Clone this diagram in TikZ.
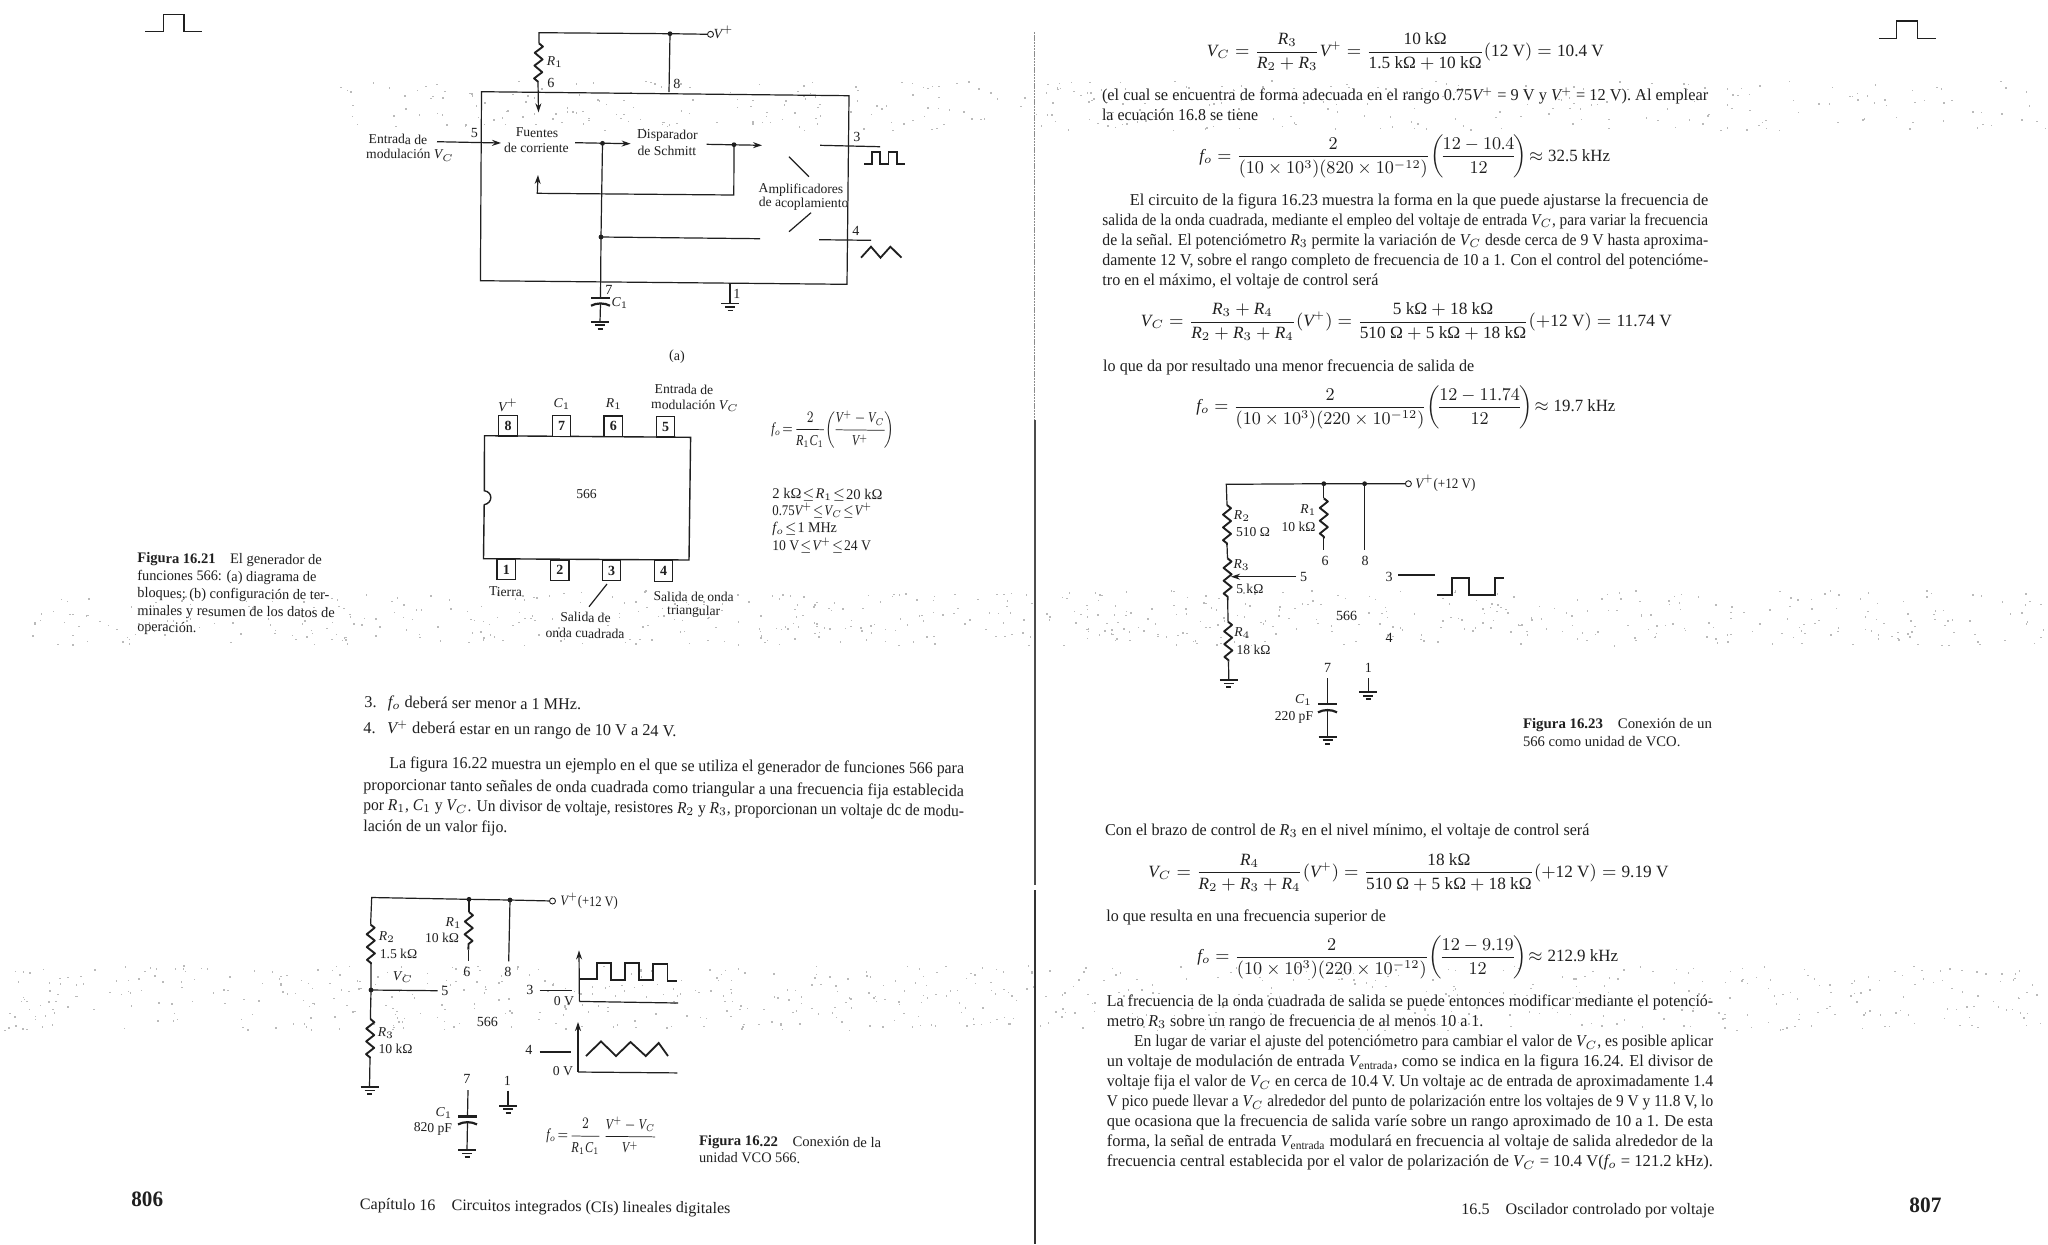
\documentclass[tikz,border=0pt]{standalone}
\usepackage{amsmath}
\usepackage{graphicx}
\usepackage{fontspec}
\setmainfont{Liberation Serif}
\usetikzlibrary{arrows.meta,decorations.pathmorphing}
\DeclareSymbolFont{numerals}{TU}{\rmdefault}{m}{n}
\DeclareMathSymbol{0}{\mathalpha}{numerals}{`0}
\DeclareMathSymbol{1}{\mathalpha}{numerals}{`1}
\DeclareMathSymbol{2}{\mathalpha}{numerals}{`2}
\DeclareMathSymbol{3}{\mathalpha}{numerals}{`3}
\DeclareMathSymbol{4}{\mathalpha}{numerals}{`4}
\DeclareMathSymbol{5}{\mathalpha}{numerals}{`5}
\DeclareMathSymbol{6}{\mathalpha}{numerals}{`6}
\DeclareMathSymbol{7}{\mathalpha}{numerals}{`7}
\DeclareMathSymbol{8}{\mathalpha}{numerals}{`8}
\DeclareMathSymbol{9}{\mathalpha}{numerals}{`9}
\DeclareMathSymbol{.}{\mathord}{numerals}{`.}
\definecolor{ink}{gray}{0.12}
\newcounter{nn}
\newcommand\VV{\mathit{V}}
\newcommand\RR{\mathit{R}}
\newcommand\CC{\mathit{C}}
\newcommand\ff{\mathit{f}}
\newcommand\pl{^{\scriptscriptstyle +}}
\def\tilt{0}
% line of text fitted between two x positions: [size]{x1}{x2}{baseline y}{text}
\newcommand\tline[5][8.3]{\stepcounter{nn}\pgfmathsetmacro\tlw{(#3-#2)*0.5}%
  \node[txt,anchor=base west,rotate=\tilt] (t\arabic{nn}) at (#2,#4) {\fontsize{#1}{#1}\selectfont\resizebox{\tlw pt}{\height}{#5}};}
% equation fitted between two x positions, centred on y
\newcommand\eqln[5][8.6]{\stepcounter{nn}\pgfmathsetmacro\tlw{(#3-#2)*0.5}%
  \node[txt,anchor=west,rotate=\tilt] (e\arabic{nn}) at (#2,#4) {\fontsize{#1}{#1}\selectfont\resizebox{\tlw pt}{\height}{#5}};}
% centred label
\newcommand\plab[4][6.8]{\stepcounter{nn}%
  \node[txt,rotate=\tilt] (l\arabic{nn}) at (#2,#3) {\fontsize{#1}{#1}\selectfont #4};}
\tikzset{
  txt/.style={inner sep=0pt,text=ink},
  wire/.style={draw=ink,line width=0.6pt},
  arr/.style={wire,-{Stealth[length=4.5pt,width=3pt]}},
  res/.style={draw=ink,line width=0.95pt,line join=round,decorate,decoration={zigzag,segment length=6.4pt,amplitude=2pt}},
  gl/.style={draw=ink,line width=0.85pt},
  term/.style={circle,draw=ink,fill=white,line width=0.45pt,inner sep=0pt,minimum size=3pt},
  pinbox/.style={draw=ink,line width=0.65pt,fill=white,inner sep=0pt,minimum width=9.3pt,minimum height=10.3pt,text=ink,font=\fontsize{7}{7}\selectfont\bfseries},
  speck/.style={fill=black!27},
  pics/gndp/.style={code={\draw[gl] (-9,0)--(9,0);\draw[gl] (-5,3.5)--(5,3.5);\draw[gl] (-2.5,7)--(2.5,7);}},
  pics/capp/.style={code={\draw[gl,line width=1.1pt] (-9.5,0)--(9.5,0);\draw[gl,line width=1.1pt] (-9.5,8) .. controls (-4,5) and (4,5) .. (9.5,8);}}
}
\begin{document}
\begin{tikzpicture}[x=0.5pt,y=-0.5pt]
\useasboundingbox (0,0) rectangle (2048,1244);
\fill[white] (0,0) rectangle (2048,1244);
% scanner speckle bands
\pgfmathsetseed{7}
\foreach \xa/\ya/\yb/\n in {340/80/130/380, 30/590/645/620, 0/965/1030/700}{
  \foreach \i in {1,...,\n}{
    \pgfmathsetmacro\sx{\xa+(2048-\xa)*rnd}
    \pgfmathsetmacro\sy{\ya+(\yb-\ya)*rnd}
    \fill[speck] (\sx,\sy) rectangle ++(1.5,1.5);
  }
}
% binding line
\coordinate (ba) at (1034.7,32); \coordinate (bb) at (1034.7,420); \coordinate (bc) at (1034.7,885);
\coordinate (bd) at (1034.7,890); \coordinate (be) at (1034.7,1244);
\draw[black!45,line width=0.7pt,dash pattern=on 1.2pt off 0.4pt] (ba)--(bb);
\draw[black!70,line width=0.8pt] (bb)--(bc);
\draw[black!80,line width=0.8pt] (bd)--(be);
% running-head pulses
\draw[wire] (145,31.7)--(163.3,31.7)--(163.3,14.7)--(184,14.7)--(184,31.7)--(202.3,31.7);
\draw[wire] (1879.4,38.3)--(1896.7,38.3)--(1896.7,21)--(1917.6,21)--(1917.6,38.3)--(1935.5,38.3);

%%%%%% LEFT PAGE
\def\tilt{-0.6}
%% Figure (a)
\coordinate (ra) at (539,32.7); \coordinate (j8) at (670,33.7);
\node[term] (vt) at (710.5,34.3) {};
\coordinate (r1a) at (539,43.3); \coordinate (r1b) at (538,81.7); \coordinate (r1c) at (538.5,112.3);
\draw[wire] (481.5,91.7)--(849,95.7)--(847,284.3)--(480.4,280.7)--cycle;
\draw[wire] (r1a)--(ra)--(j8)--(vt);
\draw[res] (r1a)--(r1b);
\draw[arr] (r1b)--(r1c);
\coordinate (p8) at (669,92);
\draw[wire] (j8)--(p8);
\fill[ink] (j8) circle (2.4);
\plab[7]{723.5}{32.7}{$\VV\pl$}
\plab{555}{62}{$\RR_1$}
\plab[7]{551}{82.7}{6}
\plab[7]{677}{84}{8}
\plab{398}{139.3}{Entrada de}
\plab{410}{155}{modulación $\VV_C$}
\coordinate (ina) at (437,141.7); \coordinate (inb) at (501,143);
\draw[arr] (ina)--(inb);
\plab[7]{474.5}{133}{5}
\plab{537}{132.7}{Fuentes}
\plab{536.5}{147.7}{de corriente}
\coordinate (fa) at (575,142.7); \coordinate (fb) at (630.6,143.7); \coordinate (fj) at (602.5,143.3);
\draw[arr] (fa)--(fb);
\plab{667.4}{135.7}{Disparador}
\plab{667}{150.7}{de Schmitt}
\coordinate (sa) at (706.5,144.3); \coordinate (sb) at (762,145.3); \coordinate (sj) at (734,144.7);
\draw[arr] (sa)--(sb);
\coordinate (fba) at (733.8,195); \coordinate (fbb) at (537.3,193.3); \coordinate (fbc) at (538,175);
\draw[arr] (sj)--(fba)--(fbb)--(fbc);
\coordinate (tj) at (601,237); \coordinate (c7) at (600.5,297.7); \coordinate (tb) at (760,238.7);
\draw[wire] (fj)--(tj)--(c7);
\draw[wire] (tj)--(tb);
\fill[ink] (fj) circle (2.4); \fill[ink] (sj) circle (2.4); \fill[ink] (tj) circle (2.4);
\coordinate (o3a) at (820,145.3); \coordinate (o3b) at (880,146.7);
\draw[wire] (o3a)--(o3b);
\plab[7]{857}{136.7}{3}
\draw[draw=ink,line width=0.9pt] (864,164)--(872,164)--(872,151.7)--(880,151.7)--(880,164)--(888.4,164)--(888.4,151.7)--(897,151.7)--(897,164)--(904.6,164);
\coordinate (s1a) at (789,156.7); \coordinate (s1b) at (809,176.7);
\draw[wire] (s1a)--(s1b);
\plab{801}{190}{Amplificadores}
\plab{803.6}{204}{de acoplamiento}
\coordinate (s2a) at (811,212.7); \coordinate (s2b) at (789,231.7);
\draw[wire] (s2a)--(s2b);
\coordinate (o4a) at (819,239.7); \coordinate (o4b) at (871,240.3);
\draw[wire] (o4a)--(o4b);
\plab[7]{856}{230.7}{4}
\draw[draw=ink,line width=0.9pt] (861,257.7)--(871,246.7)--(880.5,257.7)--(890.4,246.7)--(901.5,257.7);
\plab[7]{609}{290}{7}
\plab{620}{303}{$\CC_1$}
\pic at (600.5,297.7) {capp};
\coordinate (c7b) at (600.5,304); \coordinate (c7g) at (600,321.7);
\draw[wire] (c7b)--(c7g);
\pic at (c7g) {gndp};
\coordinate (g1a) at (730,284.3); \coordinate (g1b) at (730,303.5);
\draw[wire] (g1a)--(g1b);
\pic at (g1b) {gndp};
\plab[7]{737}{294}{1}
\plab[7]{677}{356.7}{(a)}

%% Figure (b): chip
\draw[wire,line width=0.7pt] (484.5,435.7)--(690.6,437.3)--(689,560)--(483.5,558.7)--(484.2,504.7) .. controls (493,503) and (493,492) .. (484.3,490.7)--cycle;
\node[pinbox] (pin8) at (508,425.6) {8};
\node[pinbox] (pin7) at (561.5,426) {7};
\node[pinbox] (pin6) at (613.3,426.3) {6};
\node[pinbox] (pin5) at (665.5,426.7) {5};
\node[pinbox] (pin1) at (506.3,569.5) {1};
\node[pinbox] (pin2) at (559.8,570.3) {2};
\node[pinbox] (pin3) at (611.5,570.5) {3};
\node[pinbox] (pin4) at (663.5,571) {4};
\plab{684}{389.3}{Entrada de}
\plab{695}{405.7}{modulación $\VV_C$}
\plab{508}{405}{$\VV\pl$}
\plab{562}{404}{$\CC_1$}
\plab{614}{404}{$\RR_1$}
\plab{586.5}{494.3}{566}
\plab{505.5}{591.7}{Tierra}
\coordinate (lda) at (607,584); \coordinate (ldb) at (589,606.7);
\draw[wire] (lda)--(ldb);
\plab{585.5}{617.3}{Salida de}
\plab{585}{633.3}{onda cuadrada}
\plab{693.7}{596.7}{Salida de onda}
\plab{693.7}{611.7}{triangular}
\eqln[7.6]{771}{894}{428.5}{$\ff_o\!=\!\dfrac{2}{\RR_1\CC_1}\!\left(\!\dfrac{\VV\pl-\VV_C}{\VV\pl}\!\right)$}
\tline[7.4]{772}{882}{498.3}{2 kΩ $\!\le\!$ $\RR_1$ $\!\le\!$ 20 kΩ}
\tline[7.4]{772}{871.6}{515}{0.75$\VV\pl$ $\!\le\!$ $\VV_C$ $\!\le\!$ $\VV\pl$}
\tline[7.4]{772}{836.5}{532.3}{$\ff_o$ $\!\le\!$ 1 MHz}
\tline[7.4]{772}{870.5}{550}{10 V $\!\le\!$ $\VV\pl$ $\!\le\!$ 24 V}
\tline[7.3]{137}{321.4}{562.7}{\textbf{Figura 16.21}\hspace{1em}El generador de}
\tline[7.3]{137}{316}{580}{funciones 566: (a) diagrama de}
\tline[7.3]{137}{329}{597.7}{bloques; (b) configuración de ter-}
\tline[7.3]{137}{334.4}{615.3}{minales y resumen de los datos de}
\tline[7.3]{137}{196}{631.7}{operación.}

%% Body text
\tline{364}{580.7}{707.5}{3.\hspace{0.7em}$\ff_o$ deberá ser menor a 1 MHz.}
\tline{363}{676}{733}{4.\hspace{0.7em}$\VV\pl$ deberá estar en un rango de 10 V a 24 V.}
\tline{389}{963.6}{768}{La figura 16.22 muestra un ejemplo en el que se utiliza el generador de funciones 566 para}
\tline{363}{963.6}{790}{proporcionar tanto señales de onda cuadrada como triangular a una frecuencia fija establecida}
\tline{363}{963.6}{810}{por $\RR_1$, $\CC_1$ y $\VV_C$. Un divisor de voltaje, resistores $\RR_2$ y $\RR_3$, proporcionan un voltaje dc de modu-}
\tline{363}{507}{831}{lación de un valor fijo.}

%% Figure 16.22
\coordinate (a0) at (371.7,897.5); \coordinate (a1) at (469,899.3); \coordinate (a2) at (510,900);
\node[term] (avt) at (552.5,901) {};
\coordinate (r2a) at (370.6,924.6); \coordinate (r2b) at (371,964); \coordinate (aj) at (371,990);
\coordinate (r3a) at (370.4,1019); \coordinate (r3b) at (370,1058.6); \coordinate (ag) at (369.5,1087);
\draw[wire] (avt)--(a2)--(a1)--(a0)--(r2a);
\draw[res] (r2a)--(r2b);
\draw[wire] (r2b)--(aj)--(r3a);
\draw[res] (r3a)--(r3b);
\draw[wire] (r3b)--(ag);
\pic at (ag) {gndp};
\coordinate (a5) at (437.6,990.7);
\draw[wire] (aj)--(a5);
\coordinate (r1aa) at (469,912); \coordinate (r1ab) at (468.4,949.6); \coordinate (r1ac) at (468.4,961.4);
\draw[wire] (a1)--(r1aa);
\draw[res] (r1aa)--(r1ab);
\draw[wire] (r1ab)--(r1ac);
\coordinate (a8) at (508.7,961.4);
\draw[wire] (a2)--(a8);
\fill[ink] (a1) circle (2.4); \fill[ink] (a2) circle (2.4); \fill[ink] (aj) circle (2.4);
\tline[7.2]{560}{617.5}{905.7}{$\VV\pl$(+12 V)}
\plab{387}{937}{$\RR_2$}
\plab{398.5}{954}{1.5 kΩ}
\plab{403}{977.5}{$\VV_C$}
\plab[7]{445}{990.7}{5}
\plab{386}{1033}{$\RR_3$}
\plab{395.5}{1049}{10 kΩ}
\plab{453.6}{923}{$\RR_1$}
\plab{442}{938}{10 kΩ}
\plab[7]{467}{972}{6}
\plab[7]{508}{972}{8}
\plab[7]{487.4}{1022}{566}
\plab[7]{530}{990}{3}
\coordinate (a3a) at (539.5,990.7); \coordinate (a3b) at (572,990.7);
\draw[wire] (a3a)--(a3b);
\plab{564}{1001.4}{0 V}
\coordinate (ax1) at (579,950.4); \coordinate (ax2) at (579.4,1001.4); \coordinate (ax3) at (678,1003);
\draw[arr] (ax2)--(ax1);
\draw[wire] (ax2)--(ax3);
\draw[draw=ink,line width=0.9pt] (580,979)--(597,979)--(597,963.2)--(611,963.2)--(611,980)--(625,980)--(625,963.2)--(639,963.2)--(639,980)--(653,980)--(653,964)--(667.4,964)--(667.4,980.7)--(677.4,980.7);
\plab[7]{529}{1050}{4}
\coordinate (a4a) at (539.5,1052); \coordinate (a4b) at (571,1052);
\draw[wire] (a4a)--(a4b);
\plab{563}{1071.4}{0 V}
\coordinate (bx1) at (578,1022); \coordinate (bx2) at (578,1072); \coordinate (bx3) at (677.4,1072.9);
\draw[arr] (bx2)--(bx1);
\draw[wire] (bx2)--(bx3);
\draw[draw=ink,line width=0.9pt] (586,1056)--(601,1041.4)--(616,1056)--(630.5,1042)--(645.7,1056)--(658.7,1043)--(668,1056);
\plab[7]{467}{1079.3}{7}
\coordinate (a7a) at (468,1090); \coordinate (a7b) at (467.5,1116.4); \coordinate (a7c) at (467.5,1122.5); \coordinate (a7g) at (467,1150);
\draw[wire] (a7a)--(a7b);
\pic at (a7b) {capp};
\draw[wire] (a7c)--(a7g);
\pic at (a7g) {gndp};
\plab{444}{1112.9}{$\CC_1$}
\plab{433}{1129}{820 pF}
\plab[7]{507.4}{1080.7}{1}
\coordinate (a1a) at (508,1090.7); \coordinate (a1b) at (508,1105.7);
\draw[wire] (a1a)--(a1b);
\pic at (a1b) {gndp};
\eqln[7.6]{546}{656.6}{1135}{$\ff_o\!=\!\dfrac{2}{\RR_1\CC_1}\,\dfrac{\VV\pl-\VV_C}{\VV\pl}$}
\tline[7.3]{698.6}{880.8}{1145.4}{\textbf{Figura 16.22}\hspace{1em}Conexión de la}
\tline[7.3]{698.6}{799.7}{1162}{unidad VCO 566.}
\tline[8]{359.5}{730}{1209.6}{Capítulo 16\hspace{1em}Circuitos integrados (CIs) lineales digitales}
\def\tilt{0}
\tline[11]{131}{162.7}{1206.7}{\textbf{806}}

%%%%%% RIGHT PAGE
\eqln{1206.5}{1603.5}{51.7}{$\VV_C=\dfrac{\RR_3}{\RR_2+\RR_3}\VV\pl=\dfrac{\text{10 kΩ}}{\text{1.5 kΩ}+\text{10 kΩ}}(\text{12 V})=\text{10.4 V}$}
\tline{1101.6}{1707.8}{100}{(el cual se encuentra de forma adecuada en el rango 0.75$\VV\pl$ = 9 V y $\VV\pl$ = 12 V). Al emplear}
\tline{1101.6}{1257.8}{120.7}{la ecuación 16.8 se tiene}
\eqln{1199}{1609.6}{156.7}{$\ff_o=\dfrac{2}{(10\times 10^3)(820\times 10^{-12})}\!\left(\!\dfrac{12-10.4}{12}\!\right)\!\approx\text{32.5 kHz}$}
\tline{1129.4}{1707.8}{205}{El circuito de la figura 16.23 muestra la forma en la que puede ajustarse la frecuencia de}
\tline{1102}{1707.8}{225}{salida de la onda cuadrada, mediante el empleo del voltaje de entrada $\VV_C$, para variar la frecuencia}
\tline{1102}{1707.8}{245}{de la señal. El potenciómetro $\RR_3$ permite la variación de $\VV_C$ desde cerca de 9 V hasta aproxima-}
\tline{1102}{1707.8}{265}{damente 12 V, sobre el rango completo de frecuencia de 10 a 1. Con el control del potencióme-}
\tline{1102}{1378}{285.7}{tro en el máximo, el voltaje de control será}
\eqln{1140.5}{1671.4}{321.7}{$\VV_C=\dfrac{\RR_3+\RR_4}{\RR_2+\RR_3+\RR_4}(\VV\pl)=\dfrac{\text{5 kΩ}+\text{18 kΩ}}{\text{510 Ω}+\text{5 kΩ}+\text{18 kΩ}}(+\text{12 V})=\text{11.74 V}$}
\tline{1102.8}{1473.8}{371}{lo que da por resultado una menor frecuencia de salida de}
\eqln{1196}{1615}{407.3}{$\ff_o=\dfrac{2}{(10\times 10^3)(220\times 10^{-12})}\!\left(\!\dfrac{12-11.74}{12}\!\right)\!\approx\text{19.7 kHz}$}

%% Figure 16.23
\coordinate (c0) at (1226.3,484.3); \coordinate (c1) at (1323.8,483.7); \coordinate (c2) at (1364.6,483.7);
\node[term] (cvt) at (1408.4,483.7) {};
\coordinate (cr2a) at (1227,505); \coordinate (cr2b) at (1227,545); \coordinate (cr3a) at (1227.5,558.3);
\coordinate (cr3b) at (1227.7,600); \coordinate (cr4a) at (1228,621.7); \coordinate (cr4b) at (1228.5,661.7); \coordinate (cg) at (1228.8,680);
\draw[wire] (cvt)--(c2)--(c1)--(c0)--(cr2a);
\draw[res] (cr2a)--(cr2b);
\draw[wire] (cr2b)--(cr3a);
\draw[res] (cr3a)--(cr3b);
\draw[wire] (cr3b)--(cr4a);
\draw[res] (cr4a)--(cr4b);
\draw[wire] (cr4b)--(cg);
\pic at (cg) {gndp};
\coordinate (c5a) at (1296,576.7); \coordinate (c5b) at (1231,576.7);
\draw[arr] (c5a)--(c5b);
\coordinate (cr1a) at (1323.8,498.3); \coordinate (cr1b) at (1323.8,538.3); \coordinate (cr1c) at (1323.8,550);
\draw[wire] (c1)--(cr1a);
\draw[res] (cr1a)--(cr1b);
\draw[wire] (cr1b)--(cr1c);
\coordinate (c8) at (1364.6,550);
\draw[wire] (c2)--(c8);
\fill[ink] (c1) circle (2.4); \fill[ink] (c2) circle (2.4);
\tline[7.2]{1415}{1475}{488}{$\VV\pl$(+12 V)}
\plab{1242}{516}{$\RR_2$}
\plab{1253}{532.3}{510 Ω}
\plab{1241.7}{565}{$\RR_3$}
\plab{1249.8}{589}{5 kΩ}
\plab[7]{1303.5}{577.3}{5}
\plab{1242.3}{633.3}{$\RR_4$}
\plab{1253.5}{650}{18 kΩ}
\plab{1308.4}{510}{$\RR_1$}
\plab{1298.5}{526.7}{10 kΩ}
\plab[7]{1325}{560.7}{6}
\plab[7]{1365}{560.7}{8}
\plab[7]{1389}{576.7}{3}
\coordinate (c3a) at (1398,575); \coordinate (c3b) at (1435,575);
\draw[wire] (c3a)--(c3b);
\draw[draw=ink,line width=0.9pt] (1436.8,595)--(1452,595)--(1452,577.7)--(1469,577.7)--(1469,595)--(1494.8,595)--(1494.8,577.7)--(1504,577.7);
\plab[7]{1346.7}{615.7}{566}
\plab[7]{1389}{638.3}{4}
\plab[7]{1327.5}{668.3}{7}
\coordinate (c7a) at (1327.5,678.3); \coordinate (c7p) at (1327.5,704.3); \coordinate (c7c) at (1327.5,710); \coordinate (c7gg) at (1327.5,736.7);
\draw[wire] (c7a)--(c7p);
\pic at (c7p) {capp};
\draw[wire] (c7c)--(c7gg);
\pic at (c7gg) {gndp};
\plab{1303.5}{700}{$\CC_1$}
\plab{1294}{717.3}{220 pF}
\plab[7]{1368.3}{668.3}{1}
\coordinate (c1a) at (1368.3,678.3); \coordinate (c1b) at (1368.3,692.3);
\draw[wire] (c1a)--(c1b);
\pic at (c1b) {gndp};
\tline[7.3]{1522.6}{1711.5}{728.3}{\textbf{Figura 16.23}\hspace{1em}Conexión de un}
\tline[7.3]{1522.6}{1680}{746}{566 como unidad de VCO.}

\tline{1104.7}{1589}{835}{Con el brazo de control de $\RR_3$ en el nivel mínimo, el voltaje de control será}
\eqln{1148}{1668}{872.3}{$\VV_C=\dfrac{\RR_4}{\RR_2+\RR_3+\RR_4}(\VV\pl)=\dfrac{\text{18 kΩ}}{\text{510 Ω}+\text{5 kΩ}+\text{18 kΩ}}(+\text{12 V})=\text{9.19 V}$}
\tline{1106}{1385.6}{921}{lo que resulta en una frecuencia superior de}
\eqln{1197}{1617.7}{957.3}{$\ff_o=\dfrac{2}{(10\times 10^3)(220\times 10^{-12})}\!\left(\!\dfrac{12-9.19}{12}\!\right)\!\approx\text{212.9 kHz}$}
\tline{1106.5}{1712.7}{1006.7}{La frecuencia de la onda cuadrada de salida se puede entonces modificar mediante el potenció-}
\tline{1106.5}{1483}{1026.7}{metro $\RR_3$ sobre un rango de frecuencia de al menos 10 a 1.}
\tline{1133.7}{1712.7}{1046.7}{En lugar de variar el ajuste del potenciómetro para cambiar el valor de $\VV_C$, es posible aplicar}
\tline{1106.5}{1712.7}{1066.7}{un voltaje de modulación de entrada $\VV_{\text{entrada}}$, como se indica en la figura 16.24. El divisor de}
\tline{1106.5}{1712.7}{1086.7}{voltaje fija el valor de $\VV_C$ en cerca de 10.4 V. Un voltaje ac de entrada de aproximadamente 1.4}
\tline{1106.5}{1712.7}{1106.7}{V pico puede llevar a $\VV_C$ alrededor del punto de polarización entre los voltajes de 9 V y 11.8 V, lo}
\tline{1106.5}{1712.7}{1126.7}{que ocasiona que la frecuencia de salida varíe sobre un rango aproximado de 10 a 1. De esta}
\tline{1106.5}{1712.7}{1146.7}{forma, la señal de entrada $\VV_{\text{entrada}}$ modulará en frecuencia al voltaje de salida alrededor de la}
\tline{1106.5}{1712.7}{1166.7}{frecuencia central establecida por el valor de polarización de $\VV_C$ = 10.4 V($\ff_o$ = 121.2 kHz).}
\tline[8]{1461}{1714}{1214}{16.5\hspace{1em}Oscilador controlado por voltaje}
\tline[11]{1909}{1941}{1212.7}{\textbf{807}}
\end{tikzpicture}
\end{document}
